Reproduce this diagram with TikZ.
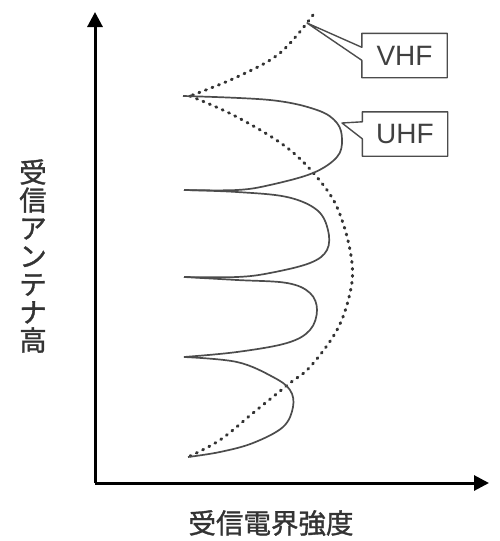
\documentclass[tikz,border=0pt]{standalone}
\usepackage{fontspec}
\setsansfont{Liberation Sans}
\newfontfamily\jpfont[FakeBold=1.2]{Noto Sans CJK JP}
\usetikzlibrary{arrows.meta,calc}
\begin{document}
\begin{tikzpicture}[x=1pt,y=-1pt,
  axisline/.style={line width=3pt,black,-{Triangle[length=15pt,width=15pt]}},
  vhfcurve/.style={black!80,line width=3pt,line cap=round,dash pattern=on 1pt off 6pt},
  uhfcurve/.style={black!70,line width=1.7pt},
  labelbox/.style={minimum width=85pt,minimum height=44pt,inner sep=0pt,font=\sffamily\fontsize{28}{28}\selectfont,text=black!75},
  calloutline/.style={black!70,line width=1.4pt,line join=round},
  axislabel/.style={font=\jpfont\fontsize{27.5}{28}\selectfont,text=black!80,inner sep=0pt}]
\useasboundingbox (0,0) rectangle (500,541);
% axes
\coordinate (origin) at (95,483);
\coordinate (ytip) at (95,12);
\coordinate (xtip) at (489,483);
\draw[axisline] (origin) -- (ytip);
\draw[axisline] (origin) -- (xtip);
% VHF dotted curve
\draw[vhfcurve] plot[smooth,tension=0.6] coordinates {(313,15) (280,53) (237,77) (190,96)};
\draw[vhfcurve] plot[smooth,tension=0.6] coordinates {(190,96) (237,117) (290,150) (327,190) (343,223) (352,263) (350,293) (337,330) (310,367) (290,383) (253,413) (220,440) (188,457)};
% UHF solid lobes
\draw[uhfcurve] plot[smooth,tension=0.6] coordinates {(183,96) (270,100) (317,110) (337,123) (342,140) (337,157) (313,173) (270,185) (237,190) (184,190)};
\draw[uhfcurve] plot[smooth,tension=0.6] coordinates {(184,190) (237,192) (287,197) (317,210) (328,230) (327,250) (310,263) (270,273) (237,277) (184,277)};
\draw[uhfcurve] plot[smooth,tension=0.6] coordinates {(184,277) (237,280) (287,283) (310,293) (317,310) (310,330) (287,343) (237,352) (184,357)};
\draw[uhfcurve] plot[smooth,tension=0.6] coordinates {(184,357) (237,362) (273,377) (290,390) (293,407) (283,427) (253,443) (220,452) (188,457)};
% label boxes
\node[labelbox] (vhf) at (404.5,55.5) {VHF};
\node[labelbox] (uhf) at (405,134) {UHF};
\coordinate (vhftip) at (307,23);
\coordinate (uhftip) at (342,123);
\draw[calloutline] (vhftip) -- ($(vhf.north west)+(0,14)$) -- (vhf.north west) -- (vhf.north east) -- (vhf.south east) -- (vhf.south west) -- ($(vhf.north west)+(0,27)$) -- cycle;
\draw[calloutline] (uhftip) -- ($(uhf.north west)+(0,10)$) -- (uhf.north west) -- (uhf.north east) -- (uhf.south east) -- (uhf.south west) -- ($(uhf.north west)+(0,27)$) -- cycle;
% axis labels
\node[axislabel,align=center] (ylabel) at (33,256) {受\\信\\ア\\ン\\テ\\ナ\\高};
\node[axislabel] (xlabel) at (271,523) {受信電界強度};
\end{tikzpicture}
\end{document}
